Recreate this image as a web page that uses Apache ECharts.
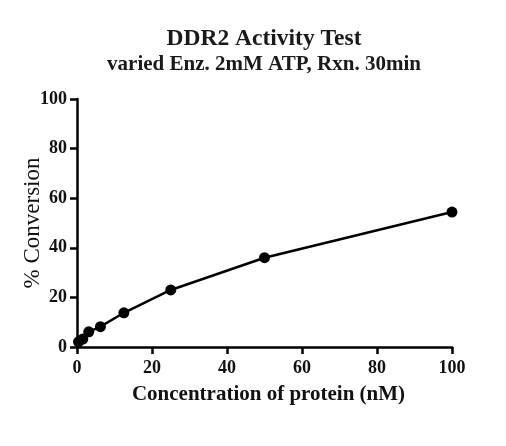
<!DOCTYPE html>
<html>
<head>
<meta charset="utf-8">
<script src="https://cdn.jsdelivr.net/npm/echarts@6/dist/echarts.min.js"></script>
<style>
  html, body { margin: 0; padding: 0; background: #fff; }
  #main { width: 506px; height: 446px; }
</style>
</head>
<body>
<div id="main"></div>
<script>
// data
var concentration = [0.4, 1.56, 3.13, 6.25, 12.5, 25, 50, 100]
var conversion = [2.1, 3.2, 6.1, 8.2, 13.8, 23.0, 36.0, 54.4]
var xTicks = [0, 20, 40, 60, 80, 100]
var yTicks = [0, 20, 40, 60, 80, 100]

var serif = '"Liberation Serif", "DejaVu Serif", serif'

var points = concentration.map(function (x, i) { return [x, conversion[i]] })

var chart = echarts.init(document.getElementById('main'), null, { renderer: 'canvas' })

var option = {
  backgroundColor: '#fff',
  animation: false,
  title: {
    text: 'DDR2 Activity Test',
    subtext: 'varied Enz. 2mM ATP, Rxn. 30min',
    left: 259,
    textAlign: 'center',
    top: 22,
    itemGap: 3,
    textStyle: { fontFamily: serif, fontWeight: 'bold', fontSize: 23.5, color: '#1a1a1a' },
    subtextStyle: { fontFamily: serif, fontWeight: 'bold', fontSize: 21, color: '#1a1a1a' }
  },
  grid: { left: 77, right: 54, top: 99, bottom: 99, containLabel: false },
  xAxis: {
    type: 'value',
    min: 0,
    max: 100,
    interval: 20,
    name: 'Concentration of protein (nM)',
    nameLocation: 'middle',
    nameGap: 37,
    nameMoveOverlap: false,
    nameTextStyle: { fontFamily: serif, fontWeight: 'bold', fontSize: 21, color: '#111', padding: [0, 0, 0, 8] },
    axisLine: { onZero: false, lineStyle: { color: '#000', width: 2.5 } },
    axisTick: { show: true, length: 7, lineStyle: { color: '#000', width: 2.5 } },
    axisLabel: {
      fontFamily: serif, fontWeight: 'bold', fontSize: 18, color: '#111', margin: 12,
      customValues: xTicks
    },
    splitLine: { show: false }
  },
  yAxis: {
    type: 'value',
    min: 0,
    max: 100,
    interval: 20,
    name: '% Conversion',
    nameLocation: 'middle',
    nameGap: 33,
    nameMoveOverlap: false,
    nameTextStyle: { fontFamily: serif, fontSize: 23, color: '#111' },
    axisLine: { show: true, onZero: false, lineStyle: { color: '#000', width: 2.5 } },
    axisTick: { show: true, length: 7, lineStyle: { color: '#000', width: 2.5 } },
    axisLabel: {
      fontFamily: serif, fontWeight: 'bold', fontSize: 18, color: '#111', margin: 10,
      customValues: yTicks
    },
    splitLine: { show: false }
  },
  series: [{
    type: 'line',
    data: points,
    symbol: 'circle',
    symbolSize: 11,
    itemStyle: { color: '#000' },
    lineStyle: { color: '#000', width: 2.5 },
    z: 3
  }]
}

chart.setOption(option)
</script>
</body>
</html>
